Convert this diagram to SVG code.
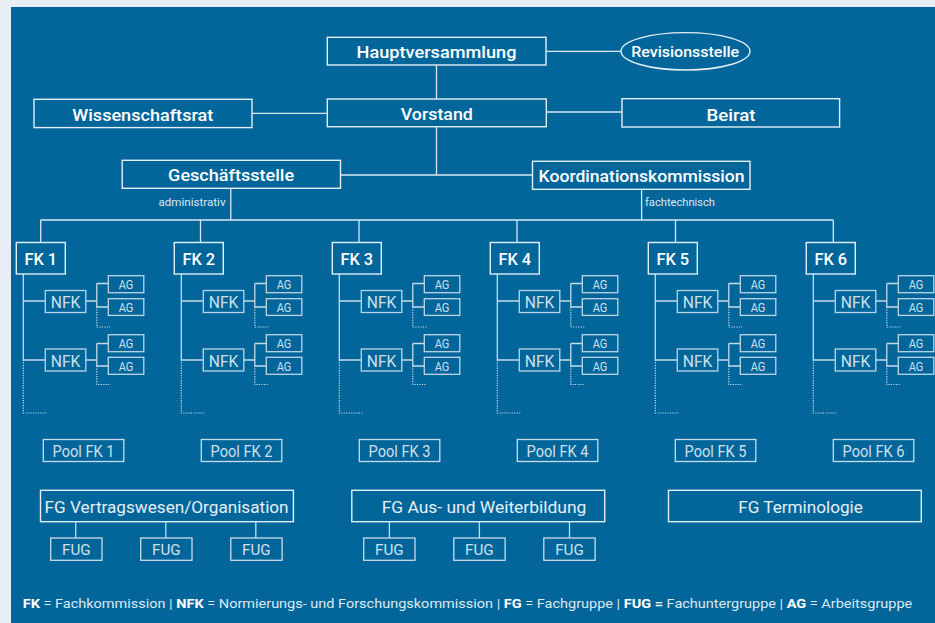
<svg xmlns="http://www.w3.org/2000/svg" width="935" height="623" viewBox="0 0 935 623">
<style>
.top{fill:none;stroke:#e4eef5;stroke-width:1.4}
.inner{fill:none;stroke:#bcd6e7;stroke-width:1.3}
.low{fill:none;stroke:#c9dce9;stroke-width:1.3}
.con{fill:none;stroke:#d9e7f1;stroke-width:1.3}
.icon{fill:none;stroke:#c4dbea;stroke-width:1.3}
.dot{fill:none;stroke:#c4dbea;stroke-width:1.2;stroke-dasharray:1.2 1.3}
.tb{font-family:Roboto,"Liberation Sans",sans-serif;font-weight:500;fill:#ffffff;text-anchor:middle}
.tl{font-family:Roboto,"Liberation Sans",sans-serif;font-weight:400;fill:#cfe0ec;text-anchor:middle}
.ts{font-family:Roboto,"Liberation Sans",sans-serif;font-weight:400;fill:#dce9f2;font-size:10.5px}
</style>
<rect x="0" y="0" width="935" height="623" fill="#e9edf5"/>
<rect x="11" y="7" width="924" height="616" fill="#03669b"/>

<g id="connectors">
<path class="con" d="M546 51.3H621M436.5 65V99M252 113.3H327.3M546.3 112H622M436.5 127V175M340.5 175H532.5M230.8 188.3V220M641.6 189.3V220M40.7 220H833.3M40.7 220V242.5M200.5 220V242.5M359 220V242.5M517 220V242.5M675.5 220V242.5M833.3 220V242.5"/>
<path class="icon" d="M75.7 521.7V538M165.8 521.7V538M255.8 521.7V538M389.4 521.7V538M479.4 521.7V538M569.5 521.7V538"/>
<g transform="translate(16.3,0)"><path class="icon" d="M7 274V360M7 301H29M7 360H29M69.5 301H80.5M80.5 283.5V307M80.5 283.5H92M80.5 307H92M69.5 360H80.5M80.5 343.5V366M80.5 343.5H92M80.5 366H92"/><path class="dot" d="M7 360V413H30M80.5 307V327H94M80.5 366V384.5H94"/></g>
<g transform="translate(174.3,0)"><path class="icon" d="M7 274V360M7 301H29M7 360H29M69.5 301H80.5M80.5 283.5V307M80.5 283.5H92M80.5 307H92M69.5 360H80.5M80.5 343.5V366M80.5 343.5H92M80.5 366H92"/><path class="dot" d="M7 360V413H30M80.5 307V327H94M80.5 366V384.5H94"/></g>
<g transform="translate(332.3,0)"><path class="icon" d="M7 274V360M7 301H29M7 360H29M69.5 301H80.5M80.5 283.5V307M80.5 283.5H92M80.5 307H92M69.5 360H80.5M80.5 343.5V366M80.5 343.5H92M80.5 366H92"/><path class="dot" d="M7 360V413H30M80.5 307V327H94M80.5 366V384.5H94"/></g>
<g transform="translate(490.3,0)"><path class="icon" d="M7 274V360M7 301H29M7 360H29M69.5 301H80.5M80.5 283.5V307M80.5 283.5H92M80.5 307H92M69.5 360H80.5M80.5 343.5V366M80.5 343.5H92M80.5 366H92"/><path class="dot" d="M7 360V413H30M80.5 307V327H94M80.5 366V384.5H94"/></g>
<g transform="translate(648.3,0)"><path class="icon" d="M7 274V360M7 301H29M7 360H29M69.5 301H80.5M80.5 283.5V307M80.5 283.5H92M80.5 307H92M69.5 360H80.5M80.5 343.5V366M80.5 343.5H92M80.5 366H92"/><path class="dot" d="M7 360V413H30M80.5 307V327H94M80.5 366V384.5H94"/></g>
<g transform="translate(806.3,0)"><path class="icon" d="M7 274V360M7 301H29M7 360H29M69.5 301H80.5M80.5 283.5V307M80.5 283.5H92M80.5 307H92M69.5 360H80.5M80.5 343.5V366M80.5 343.5H92M80.5 366H92"/><path class="dot" d="M7 360V413H30M80.5 307V327H94M80.5 366V384.5H94"/></g>
<text class="ts" x="225.5" y="206" text-anchor="end" textLength="67" lengthAdjust="spacingAndGlyphs">administrativ</text>
<text class="ts" x="645" y="206" textLength="70" lengthAdjust="spacingAndGlyphs">fachtechnisch</text>
</g>

<g id="hauptversammlung"><rect class="top" x="327.3" y="37.3" width="218.7" height="27.7"/><text class="tb" x="436.5" y="58" font-size="16.5" textLength="160" lengthAdjust="spacingAndGlyphs">Hauptversammlung</text></g>
<g id="revisionsstelle"><ellipse class="top" cx="685.5" cy="51.3" rx="64.5" ry="18.7"/><text class="tb" x="685.2" y="56.5" font-size="15" textLength="108" lengthAdjust="spacingAndGlyphs">Revisionsstelle</text></g>
<g id="wissenschaftsrat"><rect class="top" x="34" y="99.3" width="218" height="28.3"/><text class="tb" x="142.8" y="120.5" font-size="16.5" textLength="141" lengthAdjust="spacingAndGlyphs">Wissenschaftsrat</text></g>
<g id="vorstand"><rect class="top" x="327.3" y="99" width="219" height="27.7"/><text class="tb" x="436.8" y="120" font-size="16.5" textLength="72" lengthAdjust="spacingAndGlyphs">Vorstand</text></g>
<g id="beirat"><rect class="top" x="622" y="98.7" width="217.6" height="28.3"/><text class="tb" x="731" y="120.5" font-size="16.5" textLength="49" lengthAdjust="spacingAndGlyphs">Beirat</text></g>
<g id="geschaeftsstelle"><rect class="top" x="122.2" y="160.3" width="218.3" height="28"/><text class="tb" x="231.1" y="181" font-size="16.5" textLength="126" lengthAdjust="spacingAndGlyphs">Geschäftsstelle</text></g>
<g id="koordinationskommission"><rect class="top" x="532.5" y="161.3" width="217.5" height="28"/><text class="tb" x="641.6" y="182.3" font-size="16.5" textLength="206" lengthAdjust="spacingAndGlyphs">Koordinationskommission</text></g>

<g id="fk1-block" transform="translate(16.3,0)">
<g id="fk1"><rect class="top" x="0" y="242.5" width="49" height="31.5"/><text class="tb" x="24.5" y="265" font-size="17" textLength="32.7" lengthAdjust="spacingAndGlyphs">FK 1</text></g>
<g id="fk1-nfk1"><rect class="inner" x="29" y="290.5" width="40.5" height="22"/><text class="tl" x="49.25" y="308" font-size="16" textLength="29.6" lengthAdjust="spacingAndGlyphs">NFK</text></g>
<g id="fk1-nfk2"><rect class="inner" x="29" y="349" width="40.5" height="22"/><text class="tl" x="49.25" y="366.5" font-size="16" textLength="29.6" lengthAdjust="spacingAndGlyphs">NFK</text></g>
<g id="fk1-ag1"><rect class="inner" x="92" y="275.7" width="35.5" height="17"/><text class="tl" x="109.7" y="289" font-size="12" textLength="14.7" lengthAdjust="spacingAndGlyphs">AG</text></g>
<g id="fk1-ag2"><rect class="inner" x="92" y="298.7" width="35.5" height="16.7"/><text class="tl" x="109.7" y="312" font-size="12" textLength="14.7" lengthAdjust="spacingAndGlyphs">AG</text></g>
<g id="fk1-ag3"><rect class="inner" x="92" y="334.7" width="35.5" height="17"/><text class="tl" x="109.7" y="348" font-size="12" textLength="14.7" lengthAdjust="spacingAndGlyphs">AG</text></g>
<g id="fk1-ag4"><rect class="inner" x="92" y="357.3" width="35.5" height="17"/><text class="tl" x="109.7" y="370.7" font-size="12" textLength="14.7" lengthAdjust="spacingAndGlyphs">AG</text></g>
<g id="pool-fk1"><rect class="low" x="27" y="439.5" width="80.5" height="22"/><text class="tl" x="67.25" y="457" font-size="16.5" textLength="62" lengthAdjust="spacingAndGlyphs">Pool FK 1</text></g>
</g>
<g id="fk2-block" transform="translate(174.3,0)">
<g id="fk2"><rect class="top" x="0" y="242.5" width="49" height="31.5"/><text class="tb" x="24.5" y="265" font-size="17" textLength="32.7" lengthAdjust="spacingAndGlyphs">FK 2</text></g>
<g id="fk2-nfk1"><rect class="inner" x="29" y="290.5" width="40.5" height="22"/><text class="tl" x="49.25" y="308" font-size="16" textLength="29.6" lengthAdjust="spacingAndGlyphs">NFK</text></g>
<g id="fk2-nfk2"><rect class="inner" x="29" y="349" width="40.5" height="22"/><text class="tl" x="49.25" y="366.5" font-size="16" textLength="29.6" lengthAdjust="spacingAndGlyphs">NFK</text></g>
<g id="fk2-ag1"><rect class="inner" x="92" y="275.7" width="35.5" height="17"/><text class="tl" x="109.7" y="289" font-size="12" textLength="14.7" lengthAdjust="spacingAndGlyphs">AG</text></g>
<g id="fk2-ag2"><rect class="inner" x="92" y="298.7" width="35.5" height="16.7"/><text class="tl" x="109.7" y="312" font-size="12" textLength="14.7" lengthAdjust="spacingAndGlyphs">AG</text></g>
<g id="fk2-ag3"><rect class="inner" x="92" y="334.7" width="35.5" height="17"/><text class="tl" x="109.7" y="348" font-size="12" textLength="14.7" lengthAdjust="spacingAndGlyphs">AG</text></g>
<g id="fk2-ag4"><rect class="inner" x="92" y="357.3" width="35.5" height="17"/><text class="tl" x="109.7" y="370.7" font-size="12" textLength="14.7" lengthAdjust="spacingAndGlyphs">AG</text></g>
<g id="pool-fk2"><rect class="low" x="27" y="439.5" width="80.5" height="22"/><text class="tl" x="67.25" y="457" font-size="16.5" textLength="62" lengthAdjust="spacingAndGlyphs">Pool FK 2</text></g>
</g>
<g id="fk3-block" transform="translate(332.3,0)">
<g id="fk3"><rect class="top" x="0" y="242.5" width="49" height="31.5"/><text class="tb" x="24.5" y="265" font-size="17" textLength="32.7" lengthAdjust="spacingAndGlyphs">FK 3</text></g>
<g id="fk3-nfk1"><rect class="inner" x="29" y="290.5" width="40.5" height="22"/><text class="tl" x="49.25" y="308" font-size="16" textLength="29.6" lengthAdjust="spacingAndGlyphs">NFK</text></g>
<g id="fk3-nfk2"><rect class="inner" x="29" y="349" width="40.5" height="22"/><text class="tl" x="49.25" y="366.5" font-size="16" textLength="29.6" lengthAdjust="spacingAndGlyphs">NFK</text></g>
<g id="fk3-ag1"><rect class="inner" x="92" y="275.7" width="35.5" height="17"/><text class="tl" x="109.7" y="289" font-size="12" textLength="14.7" lengthAdjust="spacingAndGlyphs">AG</text></g>
<g id="fk3-ag2"><rect class="inner" x="92" y="298.7" width="35.5" height="16.7"/><text class="tl" x="109.7" y="312" font-size="12" textLength="14.7" lengthAdjust="spacingAndGlyphs">AG</text></g>
<g id="fk3-ag3"><rect class="inner" x="92" y="334.7" width="35.5" height="17"/><text class="tl" x="109.7" y="348" font-size="12" textLength="14.7" lengthAdjust="spacingAndGlyphs">AG</text></g>
<g id="fk3-ag4"><rect class="inner" x="92" y="357.3" width="35.5" height="17"/><text class="tl" x="109.7" y="370.7" font-size="12" textLength="14.7" lengthAdjust="spacingAndGlyphs">AG</text></g>
<g id="pool-fk3"><rect class="low" x="27" y="439.5" width="80.5" height="22"/><text class="tl" x="67.25" y="457" font-size="16.5" textLength="62" lengthAdjust="spacingAndGlyphs">Pool FK 3</text></g>
</g>
<g id="fk4-block" transform="translate(490.3,0)">
<g id="fk4"><rect class="top" x="0" y="242.5" width="49" height="31.5"/><text class="tb" x="24.5" y="265" font-size="17" textLength="32.7" lengthAdjust="spacingAndGlyphs">FK 4</text></g>
<g id="fk4-nfk1"><rect class="inner" x="29" y="290.5" width="40.5" height="22"/><text class="tl" x="49.25" y="308" font-size="16" textLength="29.6" lengthAdjust="spacingAndGlyphs">NFK</text></g>
<g id="fk4-nfk2"><rect class="inner" x="29" y="349" width="40.5" height="22"/><text class="tl" x="49.25" y="366.5" font-size="16" textLength="29.6" lengthAdjust="spacingAndGlyphs">NFK</text></g>
<g id="fk4-ag1"><rect class="inner" x="92" y="275.7" width="35.5" height="17"/><text class="tl" x="109.7" y="289" font-size="12" textLength="14.7" lengthAdjust="spacingAndGlyphs">AG</text></g>
<g id="fk4-ag2"><rect class="inner" x="92" y="298.7" width="35.5" height="16.7"/><text class="tl" x="109.7" y="312" font-size="12" textLength="14.7" lengthAdjust="spacingAndGlyphs">AG</text></g>
<g id="fk4-ag3"><rect class="inner" x="92" y="334.7" width="35.5" height="17"/><text class="tl" x="109.7" y="348" font-size="12" textLength="14.7" lengthAdjust="spacingAndGlyphs">AG</text></g>
<g id="fk4-ag4"><rect class="inner" x="92" y="357.3" width="35.5" height="17"/><text class="tl" x="109.7" y="370.7" font-size="12" textLength="14.7" lengthAdjust="spacingAndGlyphs">AG</text></g>
<g id="pool-fk4"><rect class="low" x="27" y="439.5" width="80.5" height="22"/><text class="tl" x="67.25" y="457" font-size="16.5" textLength="62" lengthAdjust="spacingAndGlyphs">Pool FK 4</text></g>
</g>
<g id="fk5-block" transform="translate(648.3,0)">
<g id="fk5"><rect class="top" x="0" y="242.5" width="49" height="31.5"/><text class="tb" x="24.5" y="265" font-size="17" textLength="32.7" lengthAdjust="spacingAndGlyphs">FK 5</text></g>
<g id="fk5-nfk1"><rect class="inner" x="29" y="290.5" width="40.5" height="22"/><text class="tl" x="49.25" y="308" font-size="16" textLength="29.6" lengthAdjust="spacingAndGlyphs">NFK</text></g>
<g id="fk5-nfk2"><rect class="inner" x="29" y="349" width="40.5" height="22"/><text class="tl" x="49.25" y="366.5" font-size="16" textLength="29.6" lengthAdjust="spacingAndGlyphs">NFK</text></g>
<g id="fk5-ag1"><rect class="inner" x="92" y="275.7" width="35.5" height="17"/><text class="tl" x="109.7" y="289" font-size="12" textLength="14.7" lengthAdjust="spacingAndGlyphs">AG</text></g>
<g id="fk5-ag2"><rect class="inner" x="92" y="298.7" width="35.5" height="16.7"/><text class="tl" x="109.7" y="312" font-size="12" textLength="14.7" lengthAdjust="spacingAndGlyphs">AG</text></g>
<g id="fk5-ag3"><rect class="inner" x="92" y="334.7" width="35.5" height="17"/><text class="tl" x="109.7" y="348" font-size="12" textLength="14.7" lengthAdjust="spacingAndGlyphs">AG</text></g>
<g id="fk5-ag4"><rect class="inner" x="92" y="357.3" width="35.5" height="17"/><text class="tl" x="109.7" y="370.7" font-size="12" textLength="14.7" lengthAdjust="spacingAndGlyphs">AG</text></g>
<g id="pool-fk5"><rect class="low" x="27" y="439.5" width="80.5" height="22"/><text class="tl" x="67.25" y="457" font-size="16.5" textLength="62" lengthAdjust="spacingAndGlyphs">Pool FK 5</text></g>
</g>
<g id="fk6-block" transform="translate(806.3,0)">
<g id="fk6"><rect class="top" x="0" y="242.5" width="49" height="31.5"/><text class="tb" x="24.5" y="265" font-size="17" textLength="32.7" lengthAdjust="spacingAndGlyphs">FK 6</text></g>
<g id="fk6-nfk1"><rect class="inner" x="29" y="290.5" width="40.5" height="22"/><text class="tl" x="49.25" y="308" font-size="16" textLength="29.6" lengthAdjust="spacingAndGlyphs">NFK</text></g>
<g id="fk6-nfk2"><rect class="inner" x="29" y="349" width="40.5" height="22"/><text class="tl" x="49.25" y="366.5" font-size="16" textLength="29.6" lengthAdjust="spacingAndGlyphs">NFK</text></g>
<g id="fk6-ag1"><rect class="inner" x="92" y="275.7" width="35.5" height="17"/><text class="tl" x="109.7" y="289" font-size="12" textLength="14.7" lengthAdjust="spacingAndGlyphs">AG</text></g>
<g id="fk6-ag2"><rect class="inner" x="92" y="298.7" width="35.5" height="16.7"/><text class="tl" x="109.7" y="312" font-size="12" textLength="14.7" lengthAdjust="spacingAndGlyphs">AG</text></g>
<g id="fk6-ag3"><rect class="inner" x="92" y="334.7" width="35.5" height="17"/><text class="tl" x="109.7" y="348" font-size="12" textLength="14.7" lengthAdjust="spacingAndGlyphs">AG</text></g>
<g id="fk6-ag4"><rect class="inner" x="92" y="357.3" width="35.5" height="17"/><text class="tl" x="109.7" y="370.7" font-size="12" textLength="14.7" lengthAdjust="spacingAndGlyphs">AG</text></g>
<g id="pool-fk6"><rect class="low" x="27" y="439.5" width="80.5" height="22"/><text class="tl" x="67.25" y="457" font-size="16.5" textLength="62" lengthAdjust="spacingAndGlyphs">Pool FK 6</text></g>
</g>

<g id="fg-vertragswesen"><rect class="top" x="40.5" y="490.3" width="252.9" height="31.4"/><text class="tl" x="166.6" y="513.3" font-size="16" fill="#e6eff6" textLength="244" lengthAdjust="spacingAndGlyphs" style="fill:#e6eff6">FG Vertragswesen/Organisation</text></g>
<g id="fug1"><rect class="low" x="50.7" y="538" width="51.3" height="22.3"/><text class="tl" x="76.3" y="554.7" font-size="15" textLength="28.6" lengthAdjust="spacingAndGlyphs">FUG</text></g>
<g id="fug2"><rect class="low" x="140.7" y="538" width="51.3" height="22.3"/><text class="tl" x="166.3" y="554.7" font-size="15" textLength="28.6" lengthAdjust="spacingAndGlyphs">FUG</text></g>
<g id="fug3"><rect class="low" x="230.8" y="538" width="51.3" height="22.3"/><text class="tl" x="256.4" y="554.7" font-size="15" textLength="28.6" lengthAdjust="spacingAndGlyphs">FUG</text></g>
<g id="fg-ausbildung"><rect class="top" x="351.8" y="490.3" width="252.9" height="31.4"/><text class="tl" x="484" y="513.3" font-size="16" textLength="204.6" lengthAdjust="spacingAndGlyphs" style="fill:#e6eff6">FG Aus- und Weiterbildung</text></g>
<g id="fug4"><rect class="low" x="363.7" y="538" width="51.3" height="22.3"/><text class="tl" x="389.4" y="554.7" font-size="15" textLength="28.6" lengthAdjust="spacingAndGlyphs">FUG</text></g>
<g id="fug5"><rect class="low" x="453.8" y="538" width="51.3" height="22.3"/><text class="tl" x="479.4" y="554.7" font-size="15" textLength="28.6" lengthAdjust="spacingAndGlyphs">FUG</text></g>
<g id="fug6"><rect class="low" x="543.8" y="538" width="51.3" height="22.3"/><text class="tl" x="569.5" y="554.7" font-size="15" textLength="28.6" lengthAdjust="spacingAndGlyphs">FUG</text></g>
<g id="fg-terminologie"><rect class="top" x="668.5" y="490.3" width="252.8" height="31.4"/><text class="tl" x="800.5" y="513.3" font-size="16" textLength="124.6" lengthAdjust="spacingAndGlyphs" style="fill:#e6eff6">FG Terminologie</text></g>

<g id="legend"><text x="22.7" y="607.7" font-family="Roboto, 'Liberation Sans', sans-serif" font-size="13.3" fill="#dce9f2" textLength="889.6" lengthAdjust="spacingAndGlyphs"><tspan font-weight="700" fill="#ffffff">FK</tspan> = Fachkommission | <tspan font-weight="700" fill="#ffffff">NFK</tspan> = Normierungs- und Forschungskommission | <tspan font-weight="700" fill="#ffffff">FG</tspan> = Fachgruppe | <tspan font-weight="700" fill="#ffffff">FUG =</tspan> Fachuntergruppe | <tspan font-weight="700" fill="#ffffff">AG</tspan> = Arbeitsgruppe</text></g>
</svg>
